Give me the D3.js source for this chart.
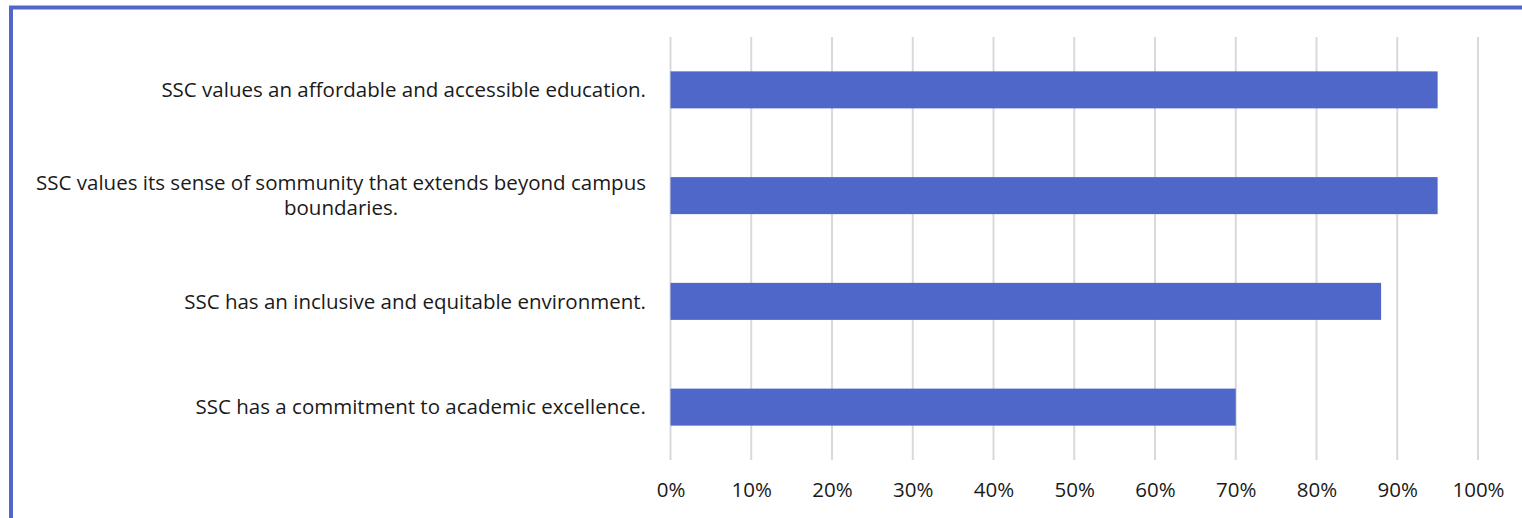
<!DOCTYPE html>
<html><head><meta charset="utf-8">
<script src="https://cdn.jsdelivr.net/npm/d3@7"></script>
<style>html,body{margin:0;padding:0;background:#fff;}svg{display:block;}</style>
</head><body>
<svg id="c" width="1522" height="518"></svg>
<script>
const categories = [
  "SSC values an affordable and accessible education.",
  "SSC values its sense of sommunity that extends beyond campus boundaries.",
  "SSC has an inclusive and equitable environment.",
  "SSC has a commitment to academic excellence."
];
const values = [0.95, 0.95, 0.88, 0.70];
const tickValues = [0,0.1,0.2,0.3,0.4,0.5,0.6,0.7,0.8,0.9,1.0];

const svg = d3.select("#c");
const font = "'Open Sans', sans-serif";
const fs = 20.5;
// frame
svg.append("rect").attr("x",11).attr("y",7.5).attr("width",1600).attr("height",600)
  .attr("fill","none").attr("stroke","#4f68c8").attr("stroke-width",4);

const x = d3.scaleLinear().domain([0,1]).range([670.5,1478]);
const y = d3.scaleBand().domain(categories).range([37,460]).paddingInner(0.65).paddingOuter(0.325);

// gridlines
svg.append("g").selectAll("line").data(tickValues).join("line")
  .attr("x1",d=>x(d)).attr("x2",d=>x(d)).attr("y1",37).attr("y2",460)
  .attr("stroke","#d9d9d9").attr("stroke-width",2);

// bars
svg.append("g").selectAll("rect").data(categories).join("rect")
  .attr("x",x(0)).attr("y",d=>y(d)).attr("width",(d,i)=>x(values[i])-x(0))
  .attr("height",y.bandwidth()).attr("fill","#4e67c8");

// x axis
const xa = svg.append("g").attr("transform","translate(0,490)")
  .call(d3.axisBottom(x).tickValues(tickValues).tickFormat(d3.format(".0%")).tickSize(0).tickPadding(0));
xa.select(".domain").remove();
xa.selectAll("text").attr("font-family",font).attr("font-size",fs).attr("fill","#1a1a1a")
  .attr("dy","0.35em");

// category labels with wrapping
const maxW = 625;
const labelX = 646;
const lg = svg.append("g");
categories.forEach((c,i)=>{
  const cy = y(c)+y.bandwidth()/2;
  const t = lg.append("text").attr("font-family",font).attr("font-size",fs).attr("fill","#1a1a1a");
  t.text(c);
  if (t.node().getComputedTextLength() <= maxW) {
    t.attr("x",labelX).attr("y",cy).attr("dy","0.35em").attr("text-anchor","end");
  } else {
    const words = c.split(" ");
    let line1 = [];
    let k = 0;
    for (; k<words.length; k++) {
      t.text([...line1, words[k]].join(" "));
      if (t.node().getComputedTextLength() > maxW) break;
      line1.push(words[k]);
    }
    const l1 = line1.join(" "), l2 = words.slice(k).join(" ");
    t.text(l1);
    const w1 = t.node().getComputedTextLength();
    const lh = 25;
    t.attr("x",labelX).attr("y",cy-lh/2).attr("dy","0.35em").attr("text-anchor","end");
    lg.append("text").attr("font-family",font).attr("font-size",fs).attr("fill","#1a1a1a")
      .attr("x",labelX-w1/2).attr("y",cy+lh/2).attr("dy","0.35em").attr("text-anchor","middle").text(l2);
  }
});
</script>
</body></html>
